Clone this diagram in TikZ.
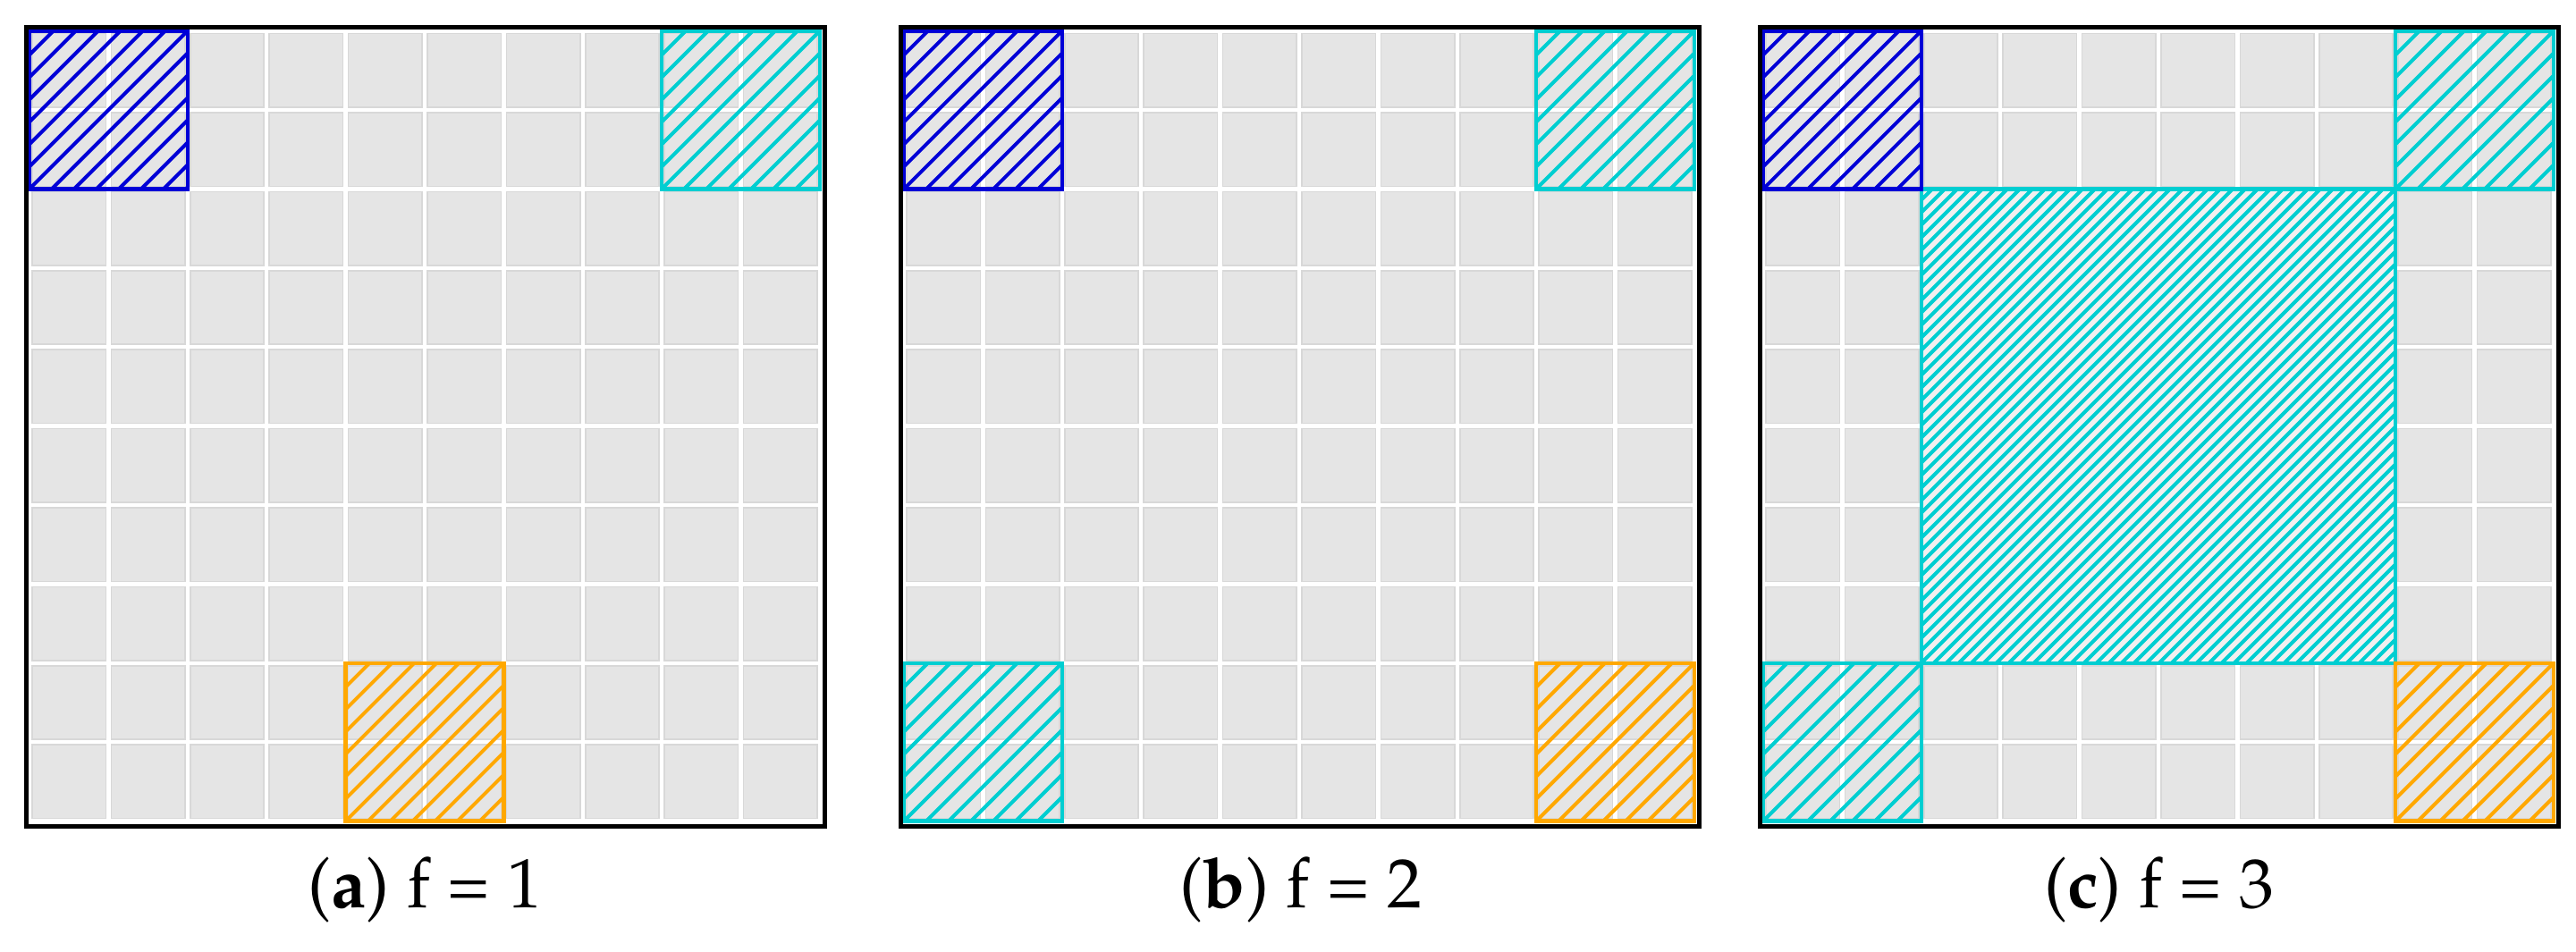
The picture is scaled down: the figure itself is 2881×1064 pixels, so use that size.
\documentclass[tikz,border=0pt]{standalone}
\usepackage[T1]{fontenc}
\usepackage{mathpazo}
\definecolor{cellgray}{RGB}{229,229,229}
\definecolor{celledge}{RGB}{216,216,216}
\definecolor{hblue}{RGB}{0,0,215}
\definecolor{hcyan}{RGB}{0,206,209}
\definecolor{horange}{RGB}{255,168,0}
\definecolor{bigfill}{RGB}{242,240,240}
\tikzset{
  frame/.style={draw=black, line width=1.25pt},
  cell/.style={fill=cellgray, draw=celledge, line width=0.4pt},
  hatchline/.style={line width=1pt},
  boxborder/.style={line width=1.1pt},
  lab/.style={anchor=base, inner sep=0pt, font=\fontsize{19.5}{23}\selectfont},
}
\newcommand{\pitch}{88.4}
% #1 panel x0, #2 col, #3 row, #4 ncells, #5 colour, #6 spacing
\newcommand{\hatchcells}[6]{%
  \pgfmathsetmacro{\hxa}{#1+4+#2*\pitch}%
  \pgfmathsetmacro{\hya}{34.5+#3*\pitch}%
  \pgfmathsetmacro{\hxb}{\hxa+#4*\pitch}%
  \pgfmathsetmacro{\hyb}{\hya+#4*\pitch}%
  \begin{scope}
    \clip (\hxa,\hya) rectangle (\hxb,\hyb);
    \foreach \k in {-45,...,45} {\draw[hatchline, draw=#5] ({\hxa+\k*#6},\hyb) -- ++(620,-620);}
  \end{scope}
  \draw[boxborder, draw=#5] (\hxa,\hya) rectangle (\hxb,\hyb);}
\newcommand{\panelbase}[1]{%
  \fill[white] (#1,30.5) rectangle ({#1+893},924.5);
  \foreach \i in {0,...,9} {\foreach \j in {0,...,9} {%
    \draw[cell] ({#1+4+\i*\pitch+3},{34.5+\j*\pitch+3}) rectangle ++(82.4,82.4);}}}
\begin{document}
\begin{tikzpicture}[x=0.25pt,y=-0.25pt]
\useasboundingbox (0,0) rectangle (2881,1064);
% panel a
\panelbase{29}
\hatchcells{29}{0}{0}{2}{hblue}{25}
\hatchcells{29}{8}{0}{2}{hcyan}{25}
\hatchcells{29}{4}{8}{2}{horange}{25}
\draw[frame] (29,30.5) rectangle (922,924.5);
\node[lab] (la) at (475.5,1015) {(\textbf{a}) f = 1};
% panel b
\panelbase{1007}
\hatchcells{1007}{0}{0}{2}{hblue}{25}
\hatchcells{1007}{8}{0}{2}{hcyan}{25}
\hatchcells{1007}{0}{8}{2}{hcyan}{25}
\hatchcells{1007}{8}{8}{2}{horange}{25}
\draw[frame] (1007,30.5) rectangle (1900,924.5);
\node[lab] (lb) at (1455,1015) {(\textbf{b}) f = 2};
% panel c
\panelbase{1968}
\fill[bigfill] ({1968+4+2*\pitch},{34.5+2*\pitch}) rectangle ({1968+4+8*\pitch},{34.5+8*\pitch});
\hatchcells{1968}{2}{2}{6}{hcyan}{14}
\hatchcells{1968}{0}{0}{2}{hblue}{25}
\hatchcells{1968}{8}{0}{2}{hcyan}{25}
\hatchcells{1968}{0}{8}{2}{hcyan}{25}
\hatchcells{1968}{8}{8}{2}{horange}{25}
\draw[frame] (1968,30.5) rectangle (2861,924.5);
\node[lab] (lc) at (2415,1015) {(\textbf{c}) f = 3};
\end{tikzpicture}
\end{document}
